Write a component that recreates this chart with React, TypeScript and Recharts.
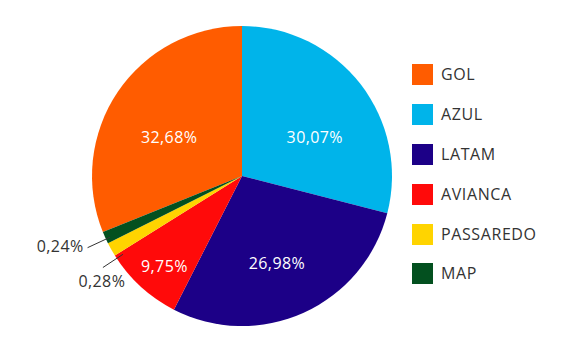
import React from 'react';
import { PieChart, Pie, Cell, Legend } from 'recharts';

// Categories in legend order
const categories = ['GOL', 'AZUL', 'LATAM', 'AVIANCA', 'PASSAREDO', 'MAP'];
// Printed share labels
const shareLabels = ['32,68%', '30,07%', '26,98%', '9,75%', '0,28%', '0,24%'];
// Slice sizes as drawn in the picture (%)
const drawnShares = [31.1, 29.0, 28.5, 8.6, 1.5, 1.3];
const colors = ['#FF5C00', '#00B4EA', '#1C0087', '#FF0A0A', '#FFD400', '#03501F'];

// Label layout (style): angle shift (deg) and radius factor for inner labels
const innerLayout = [
  { da: 6, rf: 0.55 },
  { da: -9.7, rf: 0.55 },
  { da: -2.4, rf: 0.625 },
  { da: 1.6, rf: 0.79 },
];

const data = categories.map((name, i) => ({
  name,
  value: drawnShares[i],
  label: shareLabels[i],
  color: colors[i],
}));

const total = drawnShares.reduce((a, b) => a + b, 0);
const startAngle = 90 + (drawnShares[0] / total) * 360;
const endAngle = startAngle - 360;

const FONT = '"Open Sans", sans-serif';
const RAD = Math.PI / 180;

const renderLabel = (props: any) => {
  const { cx, cy, midAngle, outerRadius, index } = props;
  const text = shareLabels[index];
  if (index < 4) {
    const l = innerLayout[index];
    const a = (midAngle + l.da) * RAD;
    const r = outerRadius * l.rf;
    const x = cx + r * Math.cos(a);
    const y = cy - r * Math.sin(a);
    return (
      <text
        key={`l${index}`}
        x={x}
        y={y}
        fill="#ffffff"
        textAnchor="middle"
        dominantBaseline="central"
        fontFamily={FONT}
        fontSize={16}
        fontWeight={500}
        letterSpacing={0.4}
      >
        {text}
      </text>
    );
  }
  if (index === 4) {
    const a = (midAngle + 4) * RAD;
    const r1 = outerRadius * 0.95;
    const r2 = outerRadius * 1.11;
    const x1 = cx + r1 * Math.cos(a);
    const y1 = cy - r1 * Math.sin(a);
    const x2 = cx + r2 * Math.cos(a);
    const y2 = cy - r2 * Math.sin(a);
    return (
      <g key={`l${index}`}>
        <line x1={x1} y1={y1} x2={x2} y2={y2} stroke="#333" strokeWidth={1} />
        <text
          x={x2 - 1}
          y={y2 + 13}
          fill="#333"
          textAnchor="middle"
          dominantBaseline="central"
          fontFamily={FONT}
          fontSize={16}
          fontWeight={500}
          letterSpacing={0.4}
        >
          {text}
        </text>
      </g>
    );
  }
  const a = (midAngle + 0.6) * RAD;
  const r1 = outerRadius * 0.97;
  const r2 = outerRadius * 1.135;
  const x1 = cx + r1 * Math.cos(a);
  const y1 = cy - r1 * Math.sin(a);
  const x2 = cx + r2 * Math.cos(a);
  const y2 = cy - r2 * Math.sin(a);
  return (
    <g key={`l${index}`}>
      <line x1={x1} y1={y1} x2={x2} y2={y2} stroke="#333" strokeWidth={1} />
      <text
        x={x2 - 4}
        y={y2 - 2}
        fill="#333"
        textAnchor="end"
        dominantBaseline="central"
        fontFamily={FONT}
        fontSize={16}
        fontWeight={500}
        letterSpacing={0.4}
      >
        {text}
      </text>
    </g>
  );
};

const renderLegend = () => (
  <div style={{ fontFamily: FONT }}>
    {categories.map((name, i) => (
      <div
        key={name}
        style={{ display: 'flex', alignItems: 'center', height: 39.8 }}
      >
        <div style={{ width: 21, height: 21, background: colors[i], marginRight: 8 }} />
        <span
          style={{
            fontSize: 16,
            color: '#333',
            lineHeight: '21px',
            fontWeight: 500,
            letterSpacing: 0.6,
          }}
        >
          {name}
        </span>
      </div>
    ))}
  </div>
);

export default function App() {
  return (
    <div style={{ position: 'absolute', left: 0, top: 0, width: 578, height: 351, background: '#fff' }}>
      <PieChart width={578} height={351} margin={{ top: 0, right: 0, bottom: 0, left: 0 }}>
        <Pie
          data={data}
          dataKey="value"
          nameKey="name"
          cx={242}
          cy={176}
          outerRadius={150}
          startAngle={startAngle}
          endAngle={endAngle}
          stroke="none"
          label={renderLabel}
          labelLine={false}
          isAnimationActive={false}
        >
          {data.map((d) => (
            <Cell key={d.name} fill={d.color} />
          ))}
        </Pie>
        <Legend
          content={renderLegend}
          layout="vertical"
          wrapperStyle={{ position: 'absolute', left: 412, top: 55, width: 160 }}
        />
      </PieChart>
    </div>
  );
}
